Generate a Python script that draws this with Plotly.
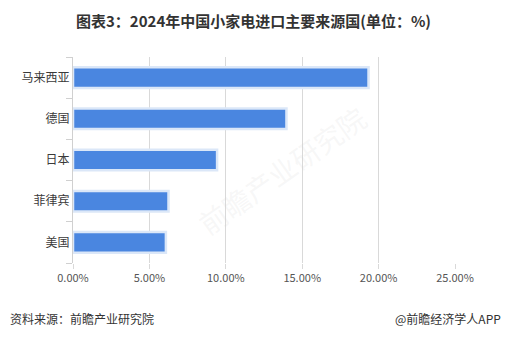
import plotly.graph_objects as go

categories = ["马来西亚", "德国", "日本", "菲律宾", "美国"]
values = [19.34, 13.97, 9.43, 6.25, 6.08]
tick_vals = [0, 5, 10, 15, 20, 25]
tick_text = ["0.00%", "5.00%", "10.00%", "15.00%", "20.00%", "25.00%"]

font_fam = "Noto Sans CJK SC, Noto Sans, sans-serif"

fig = go.Figure()
fig.add_trace(go.Bar(
    y=categories[::-1],
    x=values[::-1],
    orientation="h",
    marker=dict(color="#4a86e0", line=dict(color="#dbe7f8", width=2.5)),
    width=0.5,
))

fig.update_layout(
    width=505, height=340,
    margin=dict(l=73, r=50, t=57, b=77),
    paper_bgcolor="white", plot_bgcolor="white",
    showlegend=False,
    font=dict(family=font_fam),
    xaxis=dict(
        range=[0, 25], tickvals=tick_vals, ticktext=tick_text,
        showgrid=True, gridcolor="#d9d9d9", gridwidth=1,
        zeroline=False, showline=False,
        ticks="outside", ticklen=5, tickcolor="#d9d9d9",
        tickfont=dict(size=11, color="#555555", family=font_fam),
    ),
    yaxis=dict(
        showline=True, linecolor="#d0d0d0", linewidth=1,
        ticks="outside", ticklen=6, tickcolor="#d0d0d0",
        tickson="boundaries",
        tickfont=dict(size=12, color="#3a3a3a", family=font_fam),
        showgrid=False,
    ),
)

# title
fig.add_annotation(
    text="<b>图表3：2024年中国小家电进口主要来源国(单位：%)</b>",
    xref="paper", yref="paper",
    x=(253 - 73) / (455 - 73), y=1 + (57 - 20) / (263 - 57),
    xanchor="center", yanchor="middle", showarrow=False,
    font=dict(size=15, color="#333333", family=font_fam),
)
# source
fig.add_annotation(
    text="资料来源：前瞻产业研究院",
    xref="paper", yref="paper",
    x=(8 - 73) / (455 - 73), y=-(318 - 263) / (263 - 57),
    xanchor="left", yanchor="middle", showarrow=False,
    font=dict(size=12, color="#333333", family=font_fam),
)
fig.add_annotation(
    text="@前瞻经济学人APP",
    xref="paper", yref="paper",
    x=(503 - 73) / (455 - 73), y=-(318 - 263) / (263 - 57),
    xanchor="right", yanchor="middle", showarrow=False,
    font=dict(size=12, color="#333333", family=font_fam),
)
# faint watermark
fig.add_annotation(
    text="前瞻产业研究院",
    xref="paper", yref="paper",
    x=0.3, y=0.45, textangle=-35, showarrow=False,
    font=dict(size=28, color="rgba(210,210,210,0.18)", family=font_fam),
)

fig.write_html("out.html")
